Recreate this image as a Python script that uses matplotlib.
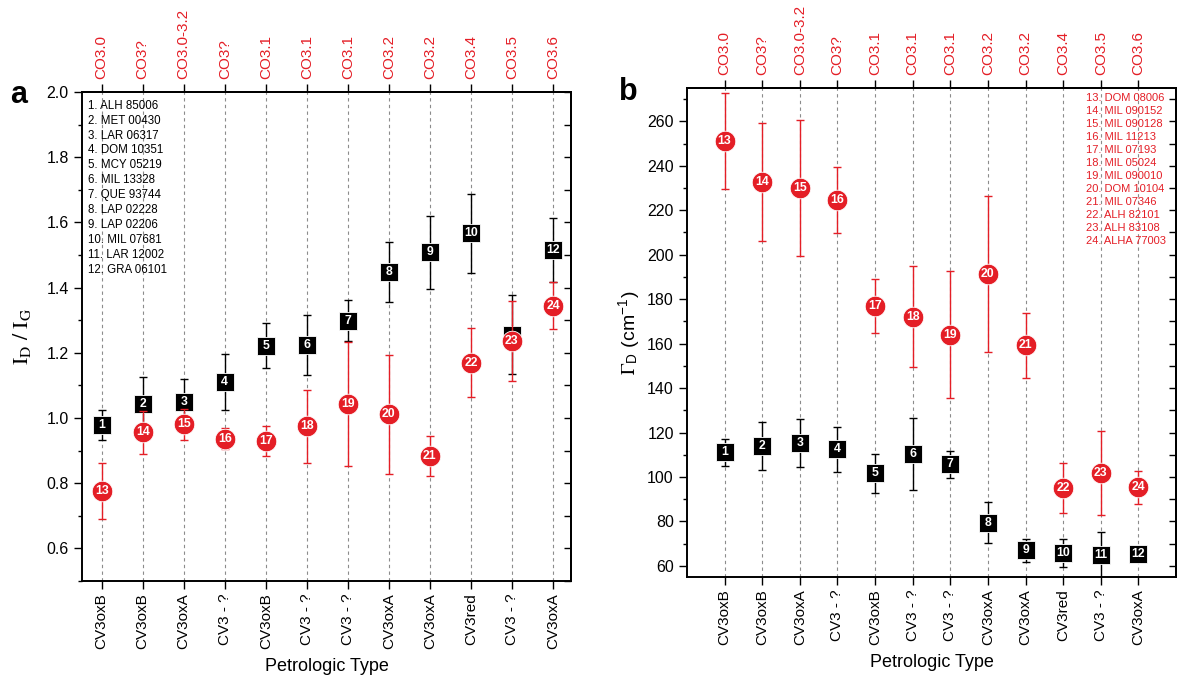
import matplotlib
matplotlib.use('Agg')
import matplotlib.pyplot as plt
from matplotlib.ticker import MultipleLocator

plt.rcParams['font.family'] = ['Liberation Sans', 'DejaVu Sans']
plt.rcParams['mathtext.fontset'] = 'stix'

# ---------------- data ----------------
positions = list(range(1, 13))
petro_types = ['CV3oxB', 'CV3oxB', 'CV3oxA', 'CV3 - ?', 'CV3oxB', 'CV3 - ?',
               'CV3 - ?', 'CV3oxA', 'CV3oxA', 'CV3red', 'CV3 - ?', 'CV3oxA']
co_types = ['CO3.0', 'CO3?', 'CO3.0-3.2', 'CO3?', 'CO3.1', 'CO3.1',
            'CO3.1', 'CO3.2', 'CO3.2', 'CO3.4', 'CO3.5', 'CO3.6']
cv_names = ['ALH 85006', 'MET 00430', 'LAR 06317', 'DOM 10351', 'MCY 05219',
            'MIL 13328', 'QUE 93744', 'LAP 02228', 'LAP 02206', 'MIL 07681',
            'LAR 12002', 'GRA 06101']
co_names = ['DOM 08006', 'MIL 090152', 'MIL 090128', 'MIL 11213', 'MIL 07193',
            'MIL 05024', 'MIL 090010', 'DOM 10104', 'MIL 07346', 'ALH 82101',
            'ALH 83108', 'ALHA 77003']
cv_ids = list(range(1, 13))
co_ids = list(range(13, 25))

# panel a : ID/IG
cv_idig = [0.980, 1.043, 1.048, 1.111, 1.222, 1.223, 1.299, 1.448, 1.509, 1.566, 1.256, 1.514]
cv_idig_err = [0.046, 0.084, 0.072, 0.085, 0.070, 0.092, 0.062, 0.092, 0.112, 0.120, 0.120, 0.098]
co_idig = [0.776, 0.956, 0.981, 0.937, 0.929, 0.974, 1.044, 1.011, 0.884, 1.170, 1.237, 1.345]
co_idig_err = [0.085, 0.066, 0.047, 0.033, 0.045, 0.112, 0.190, 0.182, 0.061, 0.107, 0.123, 0.071]

# panel b : Gamma_D (cm-1)
cv_fwhm = [111.1, 113.9, 115.3, 112.4, 101.7, 110.3, 105.7, 79.5, 67.0, 65.7, 64.8, 65.4]
cv_fwhm_err = [6.2, 10.8, 10.8, 10.2, 8.8, 16.2, 6.2, 9.1, 5.1, 6.2, 10.3, 1.5]
co_fwhm = [251.2, 232.6, 229.9, 224.7, 176.9, 172.1, 164.1, 191.4, 159.2, 95.1, 101.8, 95.4]
co_fwhm_err = [21.6, 26.6, 30.7, 14.8, 12.0, 22.7, 28.6, 35.0, 14.6, 11.2, 18.9, 7.4]

RED = '#e41e26'
BLACK = '#000000'

fig = plt.figure(figsize=(11.79, 6.77), dpi=100)
W, H = 1179, 677


def make_axes(x0, y0, x1, y1):
    return fig.add_axes([x0 / W, 1 - y1 / H, (x1 - x0) / W, (y1 - y0) / H])


def draw_panel(ax, xlim, bv, be, rv, re, ylim, major, minor, right_step):
    ax.set_xlim(*xlim)
    ax.set_ylim(*ylim)
    span = ylim[1] - ylim[0]
    for x in positions:
        ax.axvline(x, color='#8c8c8c', lw=0.8, ls=(0, (3, 3)), zorder=0)
    ax.errorbar(positions, bv, yerr=be, fmt='none', ecolor=BLACK, elinewidth=1.0,
                capsize=3.2, capthick=1.0, zorder=2)
    ax.plot(positions, bv, ls='none', marker='s', ms=13.5, mfc=BLACK, mec='white',
            mew=0.6, zorder=3)
    for x, y, r, n in zip(positions, bv, rv, cv_ids):
        # label hidden by a red circle drawn on top is not shown in the original
        if abs(y - r) > 0.03 * span:
            ax.text(x, y, str(n), color='white', fontsize=8.8, fontweight='bold',
                    ha='center', va='center', zorder=4)
    ax.errorbar(positions, rv, yerr=re, fmt='none', ecolor=RED, elinewidth=1.0,
                capsize=3.2, capthick=1.0, zorder=5)
    ax.plot(positions, rv, ls='none', marker='o', ms=14.8, mfc=RED, mec='white',
            mew=0.6, zorder=6)
    for x, y, n in zip(positions, rv, co_ids):
        ax.text(x, y, str(n), color='white', fontsize=8.8, fontweight='bold',
                ha='center', va='center', zorder=7)

    for s in ax.spines.values():
        s.set_linewidth(1.4)
    ax.yaxis.set_major_locator(MultipleLocator(major))
    ax.yaxis.set_minor_locator(MultipleLocator(minor))
    ax.tick_params(axis='y', which='major', direction='out', length=6, width=1.0,
                   labelsize=11.5, right=False)
    ax.tick_params(axis='y', which='minor', direction='out', length=3, width=1.0,
                   right=False)
    ax.set_xticks(positions)
    ax.set_xticklabels(petro_types, rotation=90, fontsize=11)
    ax.tick_params(axis='x', direction='out', length=6, width=1.0, top=False, pad=3)

    sec_y = ax.secondary_yaxis('right')
    sec_y.yaxis.set_major_locator(MultipleLocator(right_step))
    sec_y.tick_params(axis='y', which='major', direction='in', length=5, width=1.0,
                      labelright=False)
    sec_y.spines['right'].set_linewidth(1.4)

    sec_x = ax.secondary_xaxis('top')
    sec_x.set_xticks(positions)
    sec_x.set_xticklabels(co_types, rotation=90, fontsize=11, color=RED)
    sec_x.tick_params(axis='x', direction='out', length=6, width=1.0, pad=3)
    sec_x.spines['top'].set_linewidth(1.4)

    ax.set_xlabel('Petrologic Type', fontsize=13, labelpad=6)


ax_a = make_axes(82, 92, 571, 581)
ax_b = make_axes(687, 88, 1176, 577)

draw_panel(ax_a, (0.52, 12.44), cv_idig, cv_idig_err, co_idig, co_idig_err,
           (0.5, 2.0), 0.2, 0.1, 0.1)
draw_panel(ax_b, (0.0, 13.0), cv_fwhm, cv_fwhm_err, co_fwhm, co_fwhm_err,
           (55, 275), 20, 10, 10)

ax_a.set_ylabel(r'$\mathrm{I_D\ /\ I_G}$', fontsize=16, labelpad=10)
ax_b.set_ylabel(r'$\Gamma_{\mathregular{D}}$ (cm$^{\mathregular{-1}}$)', fontsize=14, labelpad=3)

ax_a.text(0.012, 0.984, '\n'.join(f'{i}. {n}' for i, n in zip(cv_ids, cv_names)),
          transform=ax_a.transAxes, fontsize=8.3, va='top', ha='left',
          linespacing=1.32, color=BLACK, zorder=8)
ax_b.text(0.816, 0.99, '\n'.join(f'{i}. {n}' for i, n in zip(co_ids, co_names)),
          transform=ax_b.transAxes, fontsize=8.0, va='top', ha='left',
          linespacing=1.38, color=RED, zorder=8)

fig.text(10 / W, 1 - 95 / H, 'a', fontsize=22, fontweight='bold', va='center', ha='left')
fig.text(619 / W, 1 - 92 / H, 'b', fontsize=22, fontweight='bold', va='center', ha='left')

fig.savefig('out.png', dpi=100)
